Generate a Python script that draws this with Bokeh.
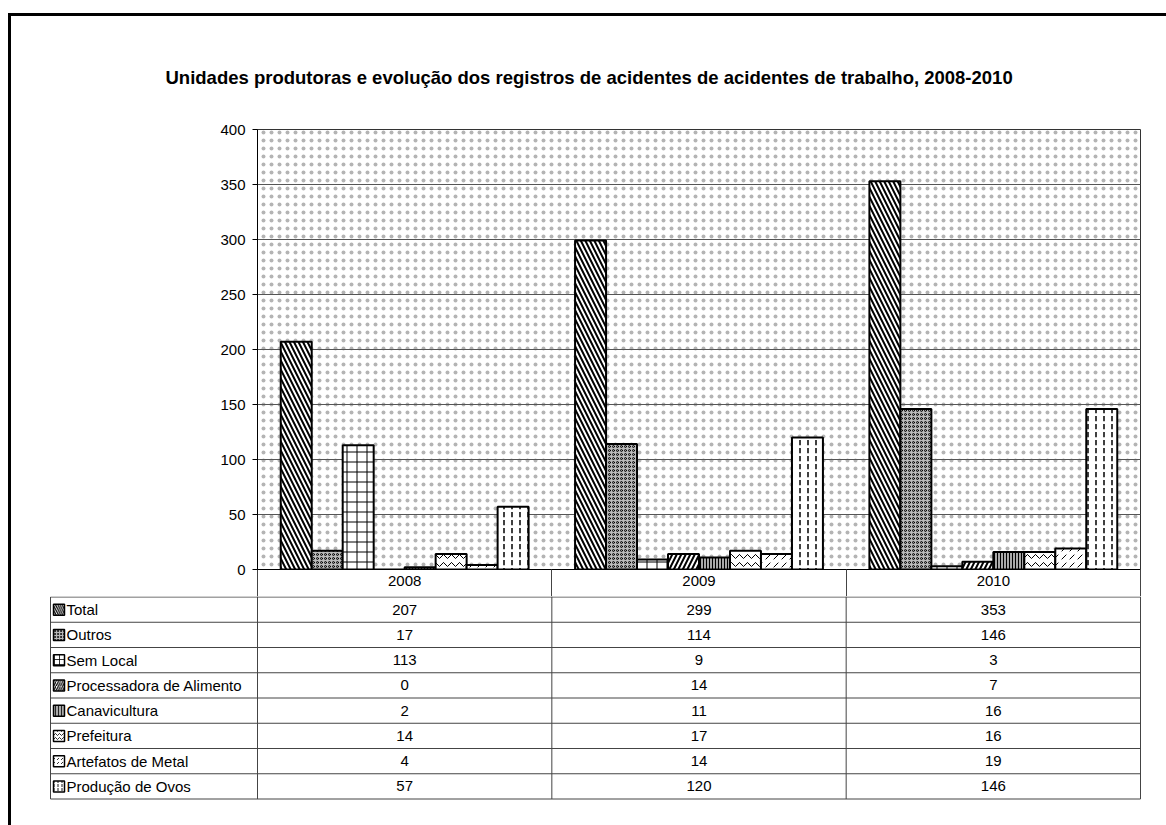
from bokeh.plotting import figure
from bokeh.models import Range1d, FixedTicker, BoxAnnotation, Div, Spacer
from bokeh.layouts import column, row
from bokeh.transform import dodge
from bokeh.core.properties import value
from bokeh.embed import file_html
from bokeh.resources import INLINE

# ---------------- data ----------------
title_text = "Unidades produtoras e evolução dos registros de acidentes de acidentes de trabalho, 2008-2010"
years = ["2008", "2009", "2010"]
series = ["Total", "Outros", "Sem Local", "Processadora de Alimento",
          "Canavicultura", "Prefeitura", "Artefatos de Metal", "Produção de Ovos"]
total = [207, 299, 353]
outros = [17, 114, 146]
sem_local = [113, 9, 3]
processadora = [0, 14, 7]
canavicultura = [2, 11, 16]
prefeitura = [14, 17, 16]
artefatos = [4, 14, 19]
producao_ovos = [57, 120, 146]
y_ticks = [0, 50, 100, 150, 200, 250, 300, 350, 400]

values = [total, outros, sem_local, processadora, canavicultura, prefeitura, artefatos, producao_ovos]

# ---------------- styles ----------------
FONT = "Liberation Sans"
# pattern, scale, weight, fill
styles = [
    ("\\", 9, 2.0, "white"),
    ("o", 4, 1.0, "#bbbbbb"),
    ("+", 10, 1.0, "white"),
    ("/", 9, 2.0, "white"),
    ("|", 3, 1.0, "#aaaaaa"),
    ("v", 8, 1.0, "white"),
    (",", 8, 1.0, "white"),
    (":", 8, 1.5, "white"),
]

# layout constants (page pixels)
PAGE_W, PAGE_H = 1166, 825
BORDER_X, BORDER_Y, BORDER_T = 8, 13, 3
X0 = BORDER_X + BORDER_T          # content left
Y0 = BORDER_Y + BORDER_T          # content top
FRAME_L, FRAME_R, FRAME_T, FRAME_B = 257, 1140, 129, 569
HDR_H = 27
N = len(series)
gap = 1.5
bar_w = 1.0 / (N + gap)

# ---------------- chart ----------------
wa = PAGE_W - X0
ha = FRAME_B + HDR_H - Y0
pa = figure(width=wa, height=ha, x_range=Range1d(-0.5, len(years) - 0.5), y_range=Range1d(0, 400),
            output_backend="svg", toolbar_location=None,
            min_border_left=FRAME_L - X0, min_border_right=PAGE_W - FRAME_R,
            min_border_top=FRAME_T - Y0, min_border_bottom=HDR_H, title=title_text)
pa.frame_align = False
pa.title.text_font = FONT
pa.title.text_font_size = "18.5px"
pa.title.text_font_style = "bold"
pa.title.text_color = "black"
pa.title.align = "left"
pa.title.offset = 165 - FRAME_L
pa.title.standoff = 83

pa.background_fill_color = "white"
pa.border_fill_color = "white"
pa.outline_line_color = "#333333"
pa.outline_line_width = 1

bg = BoxAnnotation(fill_alpha=0, line_color=None, hatch_pattern=".", hatch_scale=8,
                   hatch_weight=1, hatch_color="#444444", hatch_alpha=0.4, level="image")
pa.add_layout(bg)

pa.xgrid.visible = False
pa.ygrid.grid_line_color = "#555555"
pa.ygrid.grid_line_width = 1
pa.yaxis.ticker = FixedTicker(ticks=y_ticks)
pa.yaxis.axis_line_color = "black"
pa.yaxis.major_tick_line_color = "black"
pa.yaxis.major_tick_out = 5
pa.yaxis.major_tick_in = 0
pa.yaxis.minor_tick_line_color = None
pa.yaxis.major_label_text_font = FONT
pa.yaxis.major_label_text_font_size = "15px"
pa.yaxis.major_label_text_color = "black"
pa.yaxis.major_label_standoff = 7

# category axis acting as the data-table header
xpos = list(range(len(years)))
xax = pa.xaxis[0]
xax.ticker = FixedTicker(ticks=xpos, minor_ticks=[j - 0.5 for j in range(len(years) + 1)])
xax.major_label_overrides = {j: years[j] for j in xpos}
xax.major_tick_out = 0
xax.major_tick_in = 0
xax.minor_tick_out = HDR_H
xax.minor_tick_in = 0
xax.minor_tick_line_color = "#444444"
xax.axis_line_color = "black"
xax.major_label_text_font = FONT
xax.major_label_text_font_size = "15px"
xax.major_label_text_color = "black"
xax.major_label_standoff = -21

data = {"xi": xpos, "year": years}
for i, s in enumerate(series):
    data["s%d" % i] = values[i]

for i, s in enumerate(series):
    pat, sc, wt, fc = styles[i]
    off = (i - (N - 1) / 2) * bar_w
    pa.vbar(x=dodge("xi", off), top="s%d" % i, bottom=0, width=bar_w,
            source=data, fill_color=fc, line_color="black", line_width=2,
            hatch_pattern=pat, hatch_scale=sc, hatch_weight=wt, hatch_color="black")

# ---------------- table ----------------
TB_TOP = FRAME_B + HDR_H
hb = PAGE_H - TB_TOP
pb = figure(width=wa, height=hb, x_range=Range1d(X0, PAGE_W), y_range=Range1d(PAGE_H, TB_TOP),
            output_backend="svg", toolbar_location=None, x_axis_location=None, y_axis_location=None,
            min_border_left=0, min_border_right=0, min_border_top=0, min_border_bottom=0)
pb.frame_align = False
pb.outline_line_color = None
pb.grid.visible = False
pb.background_fill_color = "white"
pb.border_fill_color = "white"

TBL_L = 50
HDR_B = TB_TOP + 0.5
ROW_H = 25.25
rows_bottom = HDR_B + ROW_H * N
col_w = (FRAME_R - FRAME_L) / len(years)
col_edges = [FRAME_L + j * col_w for j in range(len(years) + 1)]

# vertical lines
x0s = col_edges + [TBL_L]
y0s = [TB_TOP] * len(col_edges) + [HDR_B]
pb.segment(x0=x0s, y0=y0s, x1=x0s, y1=[rows_bottom] * len(x0s), line_color="#444444", line_width=1)
# horizontal lines
hy = [HDR_B + k * ROW_H for k in range(N + 1)]
pb.segment(x0=[TBL_L] * len(hy), y0=hy, x1=[FRAME_R] * len(hy), y1=hy,
           line_color="#444444", line_width=1)

row_c = [HDR_B + (k + 0.5) * ROW_H for k in range(N)]
col_centers = [FRAME_L + (j + 0.5) * col_w for j in range(len(years))]
# row labels
pb.text(x=[66] * N, y=row_c, text=series, text_font=value(FONT), text_font_size="15px",
        text_align="left", text_baseline="middle", text_color="black")
# legend keys
for k in range(N):
    pat, sc, wt, fc = styles[k]
    pb.rect(x=[58.5], y=[row_c[k]], width=11, height=11, fill_color=fc, line_color="black",
            line_width=1.5, hatch_pattern=pat, hatch_scale=max(3, sc * 0.5),
            hatch_weight=max(0.8, wt * 0.6), hatch_color="black")
# values
vx, vy, vt = [], [], []
for k in range(N):
    for j in range(len(years)):
        vx.append(col_centers[j])
        vy.append(row_c[k])
        vt.append(str(values[k][j]))
pb.text(x=vx, y=vy, text=vt, text_font=value(FONT), text_font_size="15px",
        text_align="center", text_baseline="middle", text_color="black")

# ---------------- page border & layout ----------------
top_border = Div(width=PAGE_W - BORDER_X, height=BORDER_T, margin=0,
                 styles={"background-color": "black"})
left_border = Div(width=BORDER_T, height=PAGE_H - Y0, margin=0,
                  styles={"background-color": "black"})
layout = column(
    Spacer(width=PAGE_W, height=BORDER_Y, margin=0),
    row(Spacer(width=BORDER_X, height=BORDER_T, margin=0), top_border, margin=0),
    row(Spacer(width=BORDER_X, height=PAGE_H - Y0, margin=0), left_border,
        column(pa, pb, margin=0), margin=0),
    margin=0,
)

open("out.html", "w").write(file_html(layout, INLINE))
